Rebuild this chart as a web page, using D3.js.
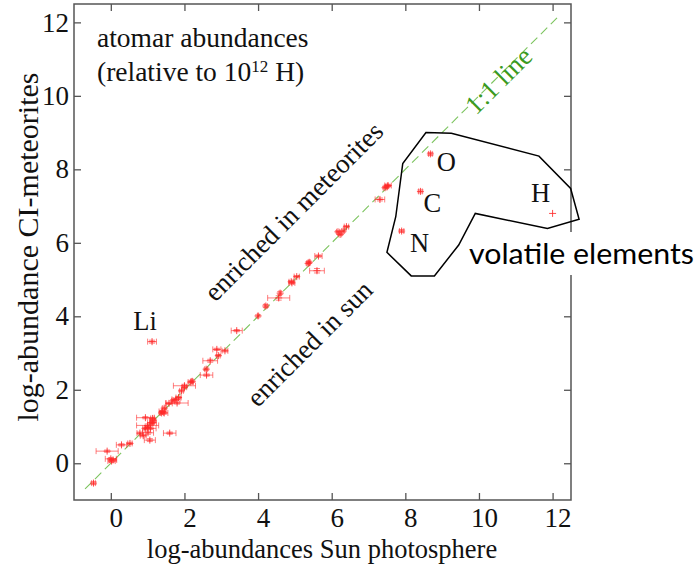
<!DOCTYPE html>
<html><head><meta charset="utf-8">
<script src="https://cdn.jsdelivr.net/npm/d3@7"></script>
<style>body{margin:0;background:#fff}</style>
</head><body>
<svg id="c" width="699" height="571"></svg>
<script>
// ---- data (log-abundances, H = 12) ----
const elements        = ["U","Tm","Lu","Th","Tb","Ho","Eu","Pr","Er","Hf","Au","W","Sb","Sm","Ag","Rh","La","Gd","Dy","Yb","Nd","Ir","Os","Be","Ce","In","Pd","Cd","Pt","Ru","Mo","Pb","Sn","Ba","Y","Zr","Rb","B","Sr","Ga","Sc","Ge","V","Cu","F","Zn","Co","Ti","K","Cl","Mn","P","Cr","Na","Ni","Ca","Al","S","Fe","Si","Mg","Li"];
const sunValues       = [-0.47,0.00,0.06,0.02,-0.10,0.29,0.52,0.79,0.93,0.88,1.01,1.06,1.00,1.01,0.94,1.12,1.13,1.12,1.14,1.08,1.45,1.38,1.45,1.40,1.58,1.60,1.69,1.77,1.80,1.84,1.92,2.00,2.00,2.17,2.21,2.59,2.60,2.70,2.92,2.88,3.10,3.42,4.00,4.21,4.56,4.60,4.92,4.90,5.05,5.60,5.39,5.36,5.64,6.17,6.23,6.31,6.40,7.31,7.45,7.51,7.53,1.12];
const meteoriteValues = [-0.54,0.12,0.09,0.06,0.33,0.50,0.54,0.82,0.95,0.75,0.83,0.63,1.03,0.97,1.24,1.11,1.22,1.09,1.17,0.95,1.50,1.37,1.37,1.41,1.63,0.82,1.70,1.74,1.64,1.79,1.97,2.07,2.11,2.21,2.23,2.56,2.40,2.79,2.93,3.10,3.06,3.61,4.01,4.28,4.50,4.63,4.91,4.94,5.08,5.24,5.47,5.44,5.64,6.30,6.23,6.32,6.44,7.18,7.50,7.54,7.56,3.31];
const sunErrors       = [0.05,0.15,0.10,0.10,0.30,0.14,0.06,0.08,0.06,0.08,0.15,0.15,0.30,0.06,0.24,0.12,0.05,0.04,0.08,0.15,0.05,0.05,0.10,0.09,0.09,0.17,0.04,0.11,0.30,0.07,0.05,0.06,0.30,0.07,0.02,0.04,0.17,0.20,0.05,0.11,0.08,0.15,0.02,0.04,0.30,0.03,0.08,0.06,0.07,0.20,0.03,0.04,0.10,0.04,0.04,0.04,0.06,0.13,0.05,0.04,0.09,0.12];
const meteoriteErrors = [0.04,0.03,0.03,0.04,0.03,0.03,0.03,0.03,0.03,0.03,0.04,0.04,0.04,0.03,0.03,0.03,0.03,0.03,0.03,0.03,0.03,0.03,0.03,0.03,0.03,0.03,0.03,0.03,0.03,0.03,0.03,0.03,0.04,0.03,0.03,0.03,0.03,0.04,0.03,0.03,0.03,0.03,0.03,0.04,0.06,0.04,0.03,0.03,0.03,0.06,0.03,0.04,0.03,0.03,0.03,0.03,0.03,0.04,0.03,0.03,0.03,0.04];

const volatileElements = ["H","C","N","O"];
const volatileSun      = [12.00, 8.41, 7.90, 8.68];
const volatileMet      = [6.80, 7.40, 6.32, 8.42];
const volatileSunErr   = [0.00, 0.05, 0.06, 0.05];
const volatileMetErr   = [0.00, 0.04, 0.04, 0.04];

const xTicks = [0,2,4,6,8,10,12];
const yTicks = [0,2,4,6,8,10,12];
const xDomain = [-1, 12.5];
const yDomain = [-1, 12.5];
const identityLine = [-0.7, 12.12];

// outline around the volatile elements (data coords)
const outlineSun = [8.56, 9.25, 11.63, 12.49, 12.72, 11.86, 9.90, 9.45, 8.79, 8.16, 7.50, 7.74, 7.93];
const outlineMet = [9.00, 8.98, 8.36, 7.48, 6.64, 6.39, 6.80, 5.94, 5.10, 5.10, 5.74, 6.71, 8.16];

// ---- drawing ----
const svg = d3.select("#c");
const L = 74, R = 571, T = 4, B = 500;
const x = d3.scaleLinear().domain(xDomain).range([L, R]);
const y = d3.scaleLinear().domain(yDomain).range([B, T]);
const serif = "'Liberation Serif','Times New Roman',serif";
const frameCol = "#555";

// identity line
svg.append("line")
  .attr("x1", x(identityLine[0])).attr("y1", y(identityLine[0]))
  .attr("x2", x(identityLine[1])).attr("y2", y(identityLine[1]))
  .attr("stroke", "#7cc45e").attr("stroke-width", 1.1)
  .attr("stroke-dasharray", "9,5");

// data with error bars
const pts = elements.map((e, i) => ({e, sx: sunValues[i], my: meteoriteValues[i], ex: sunErrors[i], ey: meteoriteErrors[i]}))
  .concat(volatileElements.map((e, i) => ({e, sx: volatileSun[i], my: volatileMet[i], ex: volatileSunErr[i], ey: volatileMetErr[i]})));

const cap = 3, mk = 3.5;
const g = svg.append("g").attr("stroke", "#ff2a2a").attr("stroke-width", 1).attr("fill", "none");
pts.forEach(p => {
  const cx = x(p.sx), cy = y(p.my);
  const gg = g.append("g").attr("stroke-opacity", 0.6);
  if (p.ex > 0) {
    const x0 = x(p.sx - p.ex), x1 = x(p.sx + p.ex);
    gg.append("line").attr("x1", x0).attr("x2", x1).attr("y1", cy).attr("y2", cy);
    gg.append("line").attr("x1", x0).attr("x2", x0).attr("y1", cy - cap).attr("y2", cy + cap);
    gg.append("line").attr("x1", x1).attr("x2", x1).attr("y1", cy - cap).attr("y2", cy + cap);
  }
  if (p.ey > 0) {
    const y0 = y(p.my - p.ey), y1 = y(p.my + p.ey);
    gg.append("line").attr("x1", cx).attr("x2", cx).attr("y1", y0).attr("y2", y1);
    gg.append("line").attr("x1", cx - cap).attr("x2", cx + cap).attr("y1", y0).attr("y2", y0);
    gg.append("line").attr("x1", cx - cap).attr("x2", cx + cap).attr("y1", y1).attr("y2", y1);
  }
  const m = g.append("g").attr("stroke-opacity", 0.85);
  m.append("line").attr("x1", cx - mk).attr("x2", cx + mk).attr("y1", cy).attr("y2", cy);
  m.append("line").attr("x1", cx).attr("x2", cx).attr("y1", cy - mk).attr("y2", cy + mk);
});

// frame & axes
svg.append("rect").attr("x", L).attr("y", T).attr("width", R - L).attr("height", B - T)
  .attr("fill", "none").attr("stroke", frameCol).attr("stroke-width", 1.5);

function styleAxis(sel, showLabels) {
  sel.select(".domain").remove();
  sel.selectAll(".tick line").attr("stroke", frameCol).attr("stroke-width", 1.3);
  sel.selectAll(".tick text").attr("font-family", serif).attr("font-size", 27).attr("fill", "#111");
  if (!showLabels) sel.selectAll(".tick text").remove();
}
svg.append("g").attr("transform", `translate(0,${B})`)
  .call(d3.axisBottom(x).tickValues(xTicks).tickSize(-7).tickPadding(8).tickFormat(d3.format("d")))
  .call(s => styleAxis(s, true))
  .call(s => s.selectAll(".tick text").attr("dx", 5));
svg.append("g").attr("transform", `translate(0,${T})`)
  .call(d3.axisTop(x).tickValues(xTicks).tickSize(-7))
  .call(s => styleAxis(s, false));
svg.append("g").attr("transform", `translate(${L},0)`)
  .call(d3.axisLeft(y).tickValues(yTicks).tickSize(-7).tickPadding(5).tickFormat(d3.format("d")))
  .call(s => styleAxis(s, true));
svg.append("g").attr("transform", `translate(${R},0)`)
  .call(d3.axisRight(y).tickValues(yTicks).tickSize(-7))
  .call(s => styleAxis(s, false));

// axis titles
svg.append("text").attr("x", 322).attr("y", 558).attr("text-anchor", "middle")
  .attr("font-family", serif).attr("font-size", 26.5).attr("fill", "#111")
  .text("log-abundances Sun photosphere");
svg.append("text").attr("transform", "translate(38,247) rotate(-90)").attr("text-anchor", "middle")
  .attr("font-family", serif).attr("font-size", 30).attr("fill", "#111")
  .text("log-abundance CI-meteorites");

// annotations
const ann = svg.append("g").attr("font-family", serif).attr("fill", "#111");
ann.append("text").attr("x", 97).attr("y", 47).attr("font-size", 27.5).text("atomar abundances");
const t2 = ann.append("text").attr("x", 97).attr("y", 81).attr("font-size", 27.5);
t2.append("tspan").text("(relative to 10");
t2.append("tspan").attr("font-size", 17).attr("dy", -9).text("12");
t2.append("tspan").attr("dy", 9).text(" H)");

ann.append("text").attr("transform", "translate(300,218) rotate(-45)").attr("text-anchor", "middle")
  .attr("font-size", 27).text("enriched in meteorites");
ann.append("text").attr("transform", "translate(316,350) rotate(-45)").attr("text-anchor", "middle")
  .attr("font-size", 27).text("enriched in sun");
ann.append("text").attr("transform", "translate(505,87) rotate(-45)").attr("text-anchor", "middle")
  .attr("font-size", 27).attr("fill", "#3a9a20").text("1:1 line");

// element labels
const labNames = ["Li", "O", "C", "N", "H"];
const labSun = [1.12, 8.68, 8.41, 7.90, 12.0];
const labMet = [3.31, 8.42, 7.40, 6.32, 6.80];
const labDx = [-7, 16, 12, 18, -12];
const labDy = [-12, 17, 21, 21, -11];
labNames.forEach((n, i) => {
  ann.append("text").attr("x", x(labSun[i]) + labDx[i]).attr("y", y(labMet[i]) + labDy[i])
    .attr("text-anchor", "middle").attr("font-size", 26.5).text(n);
});

// volatile elements label background (interrupts the frame)
svg.append("rect").attr("x", 466).attr("y", 232).attr("width", 233).attr("height", 43).attr("fill", "#fff");

// outline polygon
const poly = outlineSun.map((s, i) => [x(s), y(outlineMet[i])]);
svg.append("path").attr("d", d3.line().curve(d3.curveLinearClosed)(poly))
  .attr("fill", "none").attr("stroke", "#000").attr("stroke-width", 1.5);

svg.append("text").attr("x", 469).attr("y", 264).attr("font-family", "Lato,'Noto Sans',sans-serif")
  .attr("font-size", 29).attr("fill", "#000")
  .attr("textLength", 225).attr("lengthAdjust", "spacingAndGlyphs")
  .text("volatile elements");
</script>
</body></html>
